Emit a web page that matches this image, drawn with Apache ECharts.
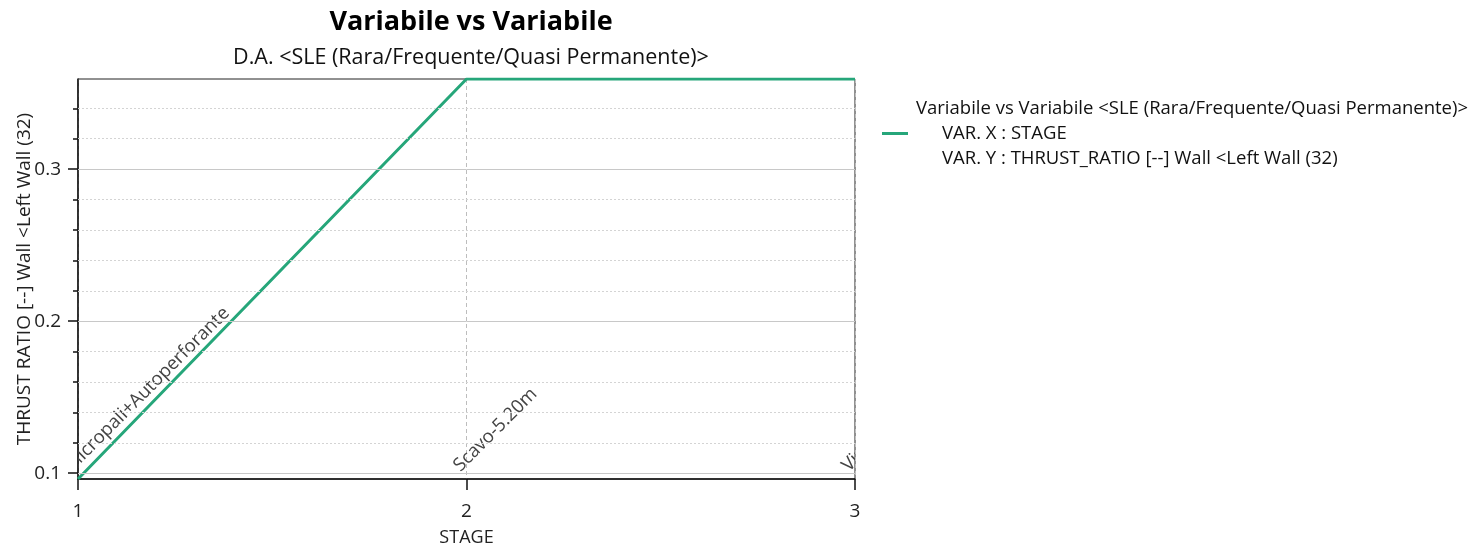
<!DOCTYPE html>
<html>
<head>
<meta charset="utf-8">
<script src="https://cdn.jsdelivr.net/npm/echarts@6/dist/echarts.min.js"></script>
<style>html,body{margin:0;padding:0;background:#fff}#c{width:1474px;height:550px}</style>
</head>
<body>
<div id="c"></div>
<script>
const stages = [1, 2, 3];
const thrustRatio = [0.0962, 0.3593, 0.3593];
const stageNames = ['Micropali+Autoperforante', 'Scavo-5.20m', 'Vincolo'];
const yMajorTicks = [0.1, 0.2, 0.3];
const yMinorTicks = [0.12, 0.14, 0.16, 0.18, 0.22, 0.24, 0.26, 0.28, 0.32, 0.34];
const yMin = 0.0962, yMax = 0.3593;
const seriesName = 'Variabile vs Variabile <SLE (Rara/Frequente/Quasi Permanente)>';
const legendLines = ['VAR. X : STAGE', 'VAR. Y : THRUST_RATIO [--] Wall <Left Wall (32)'];

const FONT = '"Open Sans", sans-serif';
const chart = echarts.init(document.getElementById('c'), null, {renderer: 'canvas'});

const gridLines = [].concat(
  yMajorTicks.map(v => ({yAxis: v, lineStyle: {type: 'solid', color: '#c8c8c8', width: 1}})),
  yMinorTicks.map(v => ({yAxis: v, lineStyle: {type: [2, 2], color: '#d4d4d4', width: 1}}))
);

chart.setOption({
  animation: false,
  title: {
    text: 'Variabile vs Variabile',
    subtext: 'D.A. <SLE (Rara/Frequente/Quasi Permanente)>',
    left: 466, top: 4, textAlign: 'center', itemGap: 11,
    textStyle: {fontFamily: FONT, fontWeight: 'bold', fontSize: 27, color: '#000'},
    subtextStyle: {fontFamily: FONT, fontSize: 21.5, color: '#111'}
  },
  legend: {
    data: [seriesName],
    left: 877, top: 94, orient: 'vertical',
    icon: 'rect', itemWidth: 26, itemHeight: 3,
    formatter: name => '{a|' + name + '}\n{b|' + legendLines[0] + '}\n{b|' + legendLines[1] + '}',
    textStyle: {
      fontFamily: FONT, fontSize: 18.5, color: '#111',
      rich: {
        a: {fontFamily: FONT, fontSize: 18.5, color: '#111', lineHeight: 25, padding: [0, 0, 0, 3]},
        b: {fontFamily: FONT, fontSize: 18.5, color: '#111', lineHeight: 25, padding: [0, 0, 0, 29]}
      }
    }
  },
  grid: {left: 78, top: 79, right: 619, bottom: 71, show: true, borderColor: '#222', borderWidth: 1, outerBoundsMode: 'none'},
  xAxis: {
    type: 'value', min: 1, max: 3, interval: 1,
    name: 'STAGE', nameLocation: 'middle', nameGap: 50, nameMoveOverlap: false,
    nameTextStyle: {fontFamily: FONT, fontSize: 18, color: '#222'},
    axisLine: {show: true, lineStyle: {color: '#111', width: 1.5}},
    axisTick: {show: true, length: 11, lineStyle: {color: '#111', width: 1.5}},
    axisLabel: {margin: 23, fontFamily: FONT, fontSize: 19, color: '#222'},
    splitLine: {show: true, lineStyle: {type: [4, 3], color: '#bdbdbd', width: 1}}
  },
  yAxis: [{
    type: 'value', min: yMin, max: yMax,
    name: 'THRUST RATIO [--] Wall <Left Wall (32)', nameLocation: 'middle', nameGap: 44, nameMoveOverlap: false,
    nameTextStyle: {fontFamily: FONT, fontSize: 19, color: '#222'},
    axisLine: {show: true, lineStyle: {color: '#111', width: 1.5}},
    axisTick: {show: true, length: 10, customValues: yMajorTicks, lineStyle: {color: '#111', width: 1.5}},
    axisLabel: {margin: 17, customValues: yMajorTicks, fontFamily: FONT, fontSize: 19, color: '#222'},
    splitLine: {show: false}
  }, {
    type: 'value', min: yMin, max: yMax, position: 'left',
    axisLine: {show: false},
    axisTick: {show: true, length: 5, customValues: yMinorTicks, lineStyle: {color: '#111', width: 1.5}},
    axisLabel: {show: false},
    splitLine: {show: false}
  }],
  series: [{
    type: 'line', name: '_grid', data: [], z: 1, silent: true,
    markLine: {silent: true, symbol: 'none', label: {show: false}, animation: false, data: gridLines}
  }, {
    type: 'custom', name: '_stages', z: 2, clip: true, silent: true,
    data: stages.map(s => [s, yMajorTicks[0]]),
    renderItem: (params, api) => {
      const p = api.coord([api.value(0), api.value(1)]);
      return {
        type: 'text', x: p[0] - 3, y: p[1] + 2, rotation: Math.PI / 4,
        style: {text: stageNames[params.dataIndex], fill: '#444', font: '18.5px ' + FONT, align: 'left', verticalAlign: 'bottom'}
      };
    }
  }, {
    type: 'line', name: seriesName, z: 3,
    data: stages.map((s, i) => [s, thrustRatio[i]]),
    showSymbol: false, symbol: 'none',
    lineStyle: {color: '#26a67a', width: 3},
    itemStyle: {color: '#26a67a'}
  }]
});
</script>
</body>
</html>
